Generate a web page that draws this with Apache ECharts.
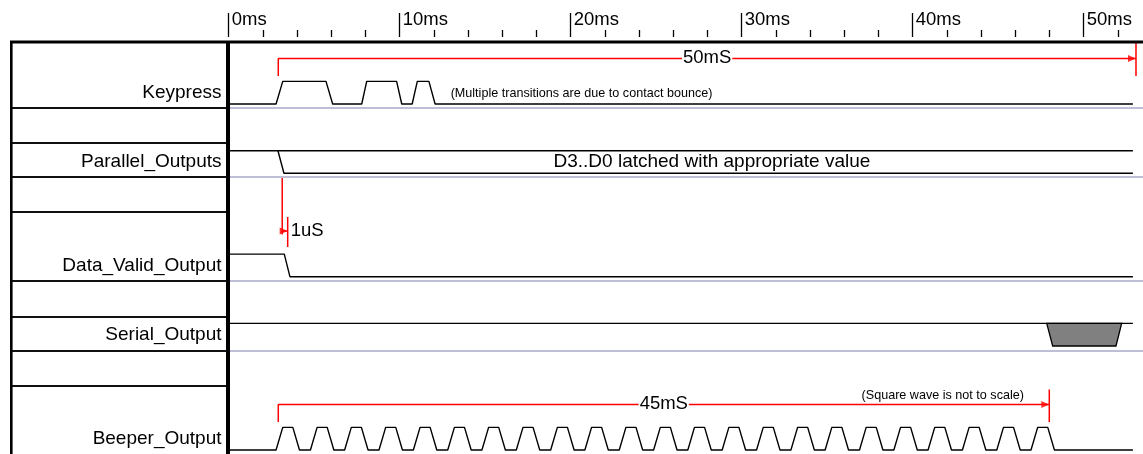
<!DOCTYPE html>
<html>
<head>
<meta charset="utf-8">
<script src="https://cdn.jsdelivr.net/npm/echarts@6/dist/echarts.min.js"></script>
<style>
html,body{margin:0;padding:0;background:#fff;}
#chart{width:1143px;height:454px;}
</style>
</head>
<body>
<div id="chart"></div>
<script>
// ---------------- data ----------------
const signalNames = ['Keypress', 'Parallel_Outputs', 'Data_Valid_Output', 'Serial_Output', 'Beeper_Output'];
const majorTicks = [0, 10, 20, 30, 40, 50];                 // ms, labelled
const minorTicks = [2, 4, 6, 8, 12, 14, 16, 18, 22, 24, 26, 28, 32, 34, 36, 38, 42, 44, 46, 48, 52];
const timeMax = 53.47;                                       // ms at right edge
const traceEnd = 52.88;                                      // ms where traces stop

// Keypress with contact bounce (time ms, logic level)
const keypressT = [0, 2.77, 3.16, 5.69, 6.08, 7.78, 8.07, 9.82, 10.12, 10.73, 11.03, 11.71, 12.07, traceEnd];
const keypressL = [0, 0,    1,    1,    0,    0,    1,    1,    0,     0,     1,     1,     0,     0];

// Parallel outputs bus: constant upper rail + latched-value edge
const parallelRailT = [0, traceEnd];
const parallelRailL = [1, 1];
const parallelEdgeT = [2.88, 3.23, traceEnd];
const parallelEdgeL = [1, 0, 0];

// Data valid output
const dataValidT = [0, 3.25, 3.58, traceEnd];
const dataValidL = [1, 1,    0,    0];

// Serial output: idle high, then one burst (trapezoid)
const serialT = [0, traceEnd];
const serialL = [1, 1];
const serialBurstT = [47.84, 52.22, 51.89, 48.19];
const serialBurstL = [1, 1, 0, 0];

// Beeper output: rising-edge start times of each pulse (ms)
const beeperRiseT = [2.77, 4.78, 6.78, 8.79, 10.80, 12.81, 14.81, 16.82, 18.83, 20.83, 22.84, 24.85,
                     26.85, 28.86, 30.87, 32.88, 34.88, 36.89, 38.90, 40.90, 42.91, 44.92, 46.92];
const beeperEdge = 0.39;   // ms, rise/fall duration
const beeperHigh = 0.59;   // ms, time held high

// Timing annotations (ms)
const span50 = [2.90, 53.06];
const span45 = [2.90, 47.99];
const span1u = [3.13, 3.45];
const spanLabels = ['50mS', '45mS', '1uS'];
const notes = ['(Multiple transitions are due to contact bounce)', 'D3..D0 latched with appropriate value', '(Square wave is not to scale)'];
const noteT = [12.95, 28.26, 36.98];

// ---------------- layout (pixels) ----------------
const FONT = 'Liberation Sans, Arial, Helvetica, sans-serif';
const W = 1143, H = 454;
const GRID_LEFT = 228.7, GRID_TOP = 41;
const LANE_LOW = [104, 173.3, 276.7, 346, 450];
const SWING = 22.6;
const ROW_LINES = [108, 143, 177, 212, 281, 317, 351, 386];
const LANE_BOTTOMS = [108, 177, 281, 351];
const RED = '#ff0000';
const yOf = (lane, level) => LANE_LOW[lane] - level * SWING;
const pts = (T, L, lane) => T.map((t, i) => [t, yOf(lane, L[i])]);

function beeperPoints() {
  const out = [[0, yOf(4, 0)]];
  beeperRiseT.forEach(r => {
    out.push([r, yOf(4, 0)]);
    out.push([r + beeperEdge, yOf(4, 1)]);
    out.push([r + beeperEdge + beeperHigh, yOf(4, 1)]);
    out.push([r + 2 * beeperEdge + beeperHigh, yOf(4, 0)]);
  });
  out.push([traceEnd, yOf(4, 0)]);
  return out;
}

const blackLine = data => ({
  type: 'line', data, symbol: 'none', silent: true, animation: false, z: 3,
  lineStyle: { color: '#000', width: 1.4 }
});
const redLine = data => ({
  type: 'line', data, symbol: 'none', silent: true, animation: false, z: 5,
  lineStyle: { color: RED, width: 1.5 }
});
const textLabel = (extra) => Object.assign({
  show: true, color: '#000', fontFamily: FONT, textBorderWidth: 0, opacity: 1
}, extra);

// annotation geometry relative to lanes
const b50 = yOf(0, 1) - 23, b50Bottom = yOf(0, 1) - 5.5, b50Top = yOf(0, 1) - 40;
const b45 = yOf(4, 1) - 23, b45Bottom = yOf(4, 1) - 5.5, b45Top = yOf(4, 1) - 38;
const a1u = yOf(2, 1) - 23;

const series = [
  blackLine(pts(keypressT, keypressL, 0)),
  blackLine(pts(parallelRailT, parallelRailL, 1)),
  blackLine(pts(parallelEdgeT, parallelEdgeL, 1)),
  blackLine(pts(dataValidT, dataValidL, 2)),
  blackLine(pts(serialT, serialL, 3)),
  blackLine(beeperPoints()),
  {
    type: 'custom', silent: true, animation: false, z: 4,
    data: [[serialBurstT[0], yOf(3, 1)]],
    renderItem: (params, api) => ({
      type: 'polygon',
      shape: { points: serialBurstT.map((t, i) => api.coord([t, yOf(3, serialBurstL[i])])) },
      style: { fill: '#808080', stroke: '#000', lineWidth: 1.3 }
    })
  },
  // 50mS
  redLine([[span50[0], b50Bottom], [span50[0], b50], [span50[1], b50]]),
  redLine([[span50[1], b50Top], [span50[1], b50Bottom]]),
  // 45mS
  redLine([[span45[0], b45Bottom], [span45[0], b45], [span45[1], b45]]),
  redLine([[span45[1], b45Top], [span45[1], b45Bottom]]),
  // 1uS
  redLine([[span1u[0], LANE_LOW[1] + 4.7], [span1u[0], a1u + 3.5]]),
  redLine([[span1u[0], a1u], [span1u[1], a1u]]),
  redLine([[span1u[1], a1u - 14], [span1u[1], a1u + 16]]),
  // arrowheads
  {
    type: 'scatter', silent: true, animation: false, z: 6,
    symbol: 'triangle', symbolRotate: -90, symbolSize: [7, 8], symbolOffset: [-4, 0],
    itemStyle: { color: RED },
    data: [[span50[1], b50], [span45[1], b45], [span1u[1], a1u]]
  },
  // span labels
  {
    type: 'scatter', silent: true, animation: false, z: 7,
    symbolSize: 1, itemStyle: { color: '#fff', opacity: 1 },
    data: [
      { value: [(span50[0] + span50[1]) / 2, b50], label: textLabel({ position: 'inside', fontSize: 18.5, formatter: spanLabels[0], backgroundColor: '#fff', padding: [0, 1] }) },
      { value: [(span45[0] + span45[1]) / 2, b45], label: textLabel({ position: 'inside', fontSize: 18.5, formatter: spanLabels[1], backgroundColor: '#fff', padding: [0, 1] }) },
      { value: [span1u[1] + 0.15, a1u], label: textLabel({ position: 'right', distance: 0, fontSize: 18.5, formatter: spanLabels[2] }) }
    ]
  },
  // notes
  {
    type: 'scatter', silent: true, animation: false, z: 7,
    symbolSize: 1, itemStyle: { color: '#fff', opacity: 1 },
    data: [
      { value: [noteT[0], LANE_LOW[0] - 10], label: textLabel({ position: 'right', distance: 0, fontSize: 12.6, formatter: notes[0] }) },
      { value: [noteT[1], yOf(1, 0.5)], label: textLabel({ position: 'inside', fontSize: 19, formatter: notes[1] }) },
      { value: [noteT[2], yOf(4, 1) - 31.7], label: textLabel({ position: 'right', distance: 0, fontSize: 12.6, formatter: notes[2] }) }
    ]
  }
];

// ---------------- frame graphics ----------------
const graphics = [];
const gLine = (x1, y1, x2, y2, w, c) => graphics.push({
  type: 'line', silent: true, z: 10,
  shape: { x1, y1, x2, y2 }, style: { stroke: c, lineWidth: w }
});
LANE_BOTTOMS.forEach(y => gLine(230, y, W, y, 1.5, '#a9a9c9'));
ROW_LINES.forEach(y => gLine(12, y, 226, y, 1.8, '#111'));
gLine(10, 42, W, 42, 3, '#000');
gLine(11.3, 41, 11.3, H, 2.6, '#000');
gLine(228, 41, 228, H, 4, '#000');
signalNames.forEach((name, i) => graphics.push({
  type: 'text', silent: true, z: 10,
  x: 221.5, y: yOf(i, 0.5),
  style: { text: name, fill: '#000', fontSize: 19, fontFamily: FONT, align: 'right', verticalAlign: 'middle' }
}));

// ---------------- chart ----------------
const chart = echarts.init(document.getElementById('chart'), null, { renderer: 'canvas' });
chart.setOption({
  backgroundColor: '#fff',
  animation: false,
  grid: { left: GRID_LEFT, right: 0, top: GRID_TOP, bottom: 0, containLabel: false },
  xAxis: [
    {
      type: 'value', position: 'top', min: 0, max: timeMax, offset: 4,
      axisLine: { show: false }, splitLine: { show: false },
      axisTick: { show: true, customValues: majorTicks, length: 24, lineStyle: { color: '#000', width: 1.3 } },
      axisLabel: {
        customValues: majorTicks, formatter: v => v + 'ms', align: 'left', verticalAlign: 'middle',
        margin: 17, padding: [0, 0, 0, 3], color: '#000', fontSize: 18.5, fontFamily: FONT
      }
    },
    {
      type: 'value', position: 'top', min: 0, max: timeMax, offset: 4,
      axisLine: { show: false }, splitLine: { show: false },
      axisTick: { show: true, customValues: minorTicks, length: 7, lineStyle: { color: '#000', width: 1.3 } },
      axisLabel: { show: false }
    }
  ],
  yAxis: { type: 'value', min: GRID_TOP, max: H, inverse: true, show: false },
  series,
  graphic: graphics
});
</script>
</body>
</html>
